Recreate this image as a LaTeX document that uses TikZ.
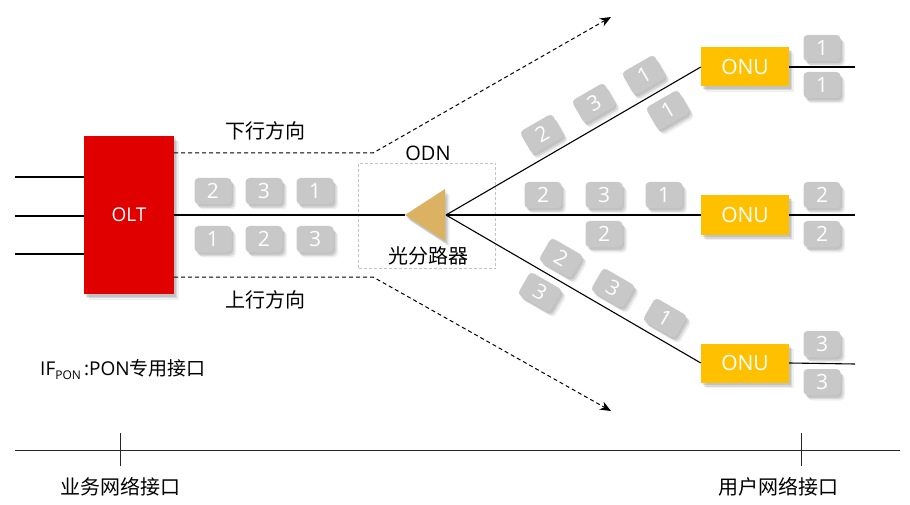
\documentclass[tikz,border=0pt]{standalone}
\usepackage{fontspec}
\setmainfont{Open Sans}
\newfontfamily\cjk{Noto Sans CJK SC}
\usetikzlibrary{arrows.meta,shadows}
\definecolor{oltred}{RGB}{224,0,0}
\definecolor{onuyel}{RGB}{255,192,0}
\definecolor{pktgray}{RGB}{200,200,200}
\definecolor{splitter}{RGB}{218,178,98}
\definecolor{odngray}{RGB}{195,195,195}
\begin{document}
\begin{tikzpicture}[x=1pt,y=-1pt,
  boxshadow/.style={
    drop shadow={shadow xshift=1.5pt,shadow yshift=-2.5pt,opacity=0.10,fill=black},
    drop shadow={shadow xshift=3pt,shadow yshift=-4pt,opacity=0.10,fill=black},
    drop shadow={shadow xshift=4.5pt,shadow yshift=-5.5pt,opacity=0.06,fill=black}},
  pkt/.style={rounded corners=4pt,fill=pktgray,minimum width=37pt,minimum height=26pt,
    inner sep=0pt,text=white,font=\fontsize{21}{21}\selectfont,boxshadow},
  dev/.style={text=white,inner sep=0pt,boxshadow},
  fiber/.style={line width=1.1pt},
  flow/.style={line width=1pt,dash pattern=on 4pt off 3pt,-{Stealth[length=11pt,width=9pt]}},
  cn/.style={font=\cjk\fontsize{20}{24}\selectfont,inner sep=0pt},
  axis/.style={line width=1pt,black!85}]
\useasboundingbox (0,0) rectangle (910,505);

% ODN frame
\node[draw=odngray,line width=0.8pt,dash pattern=on 3pt off 2pt,
      minimum width=137pt,minimum height=105pt,inner sep=0pt] (odn) at (427,216) {};

% devices
\node[dev,fill=oltred,minimum width=90pt,minimum height=158pt,
      font=\fontsize{19}{19}\selectfont] (olt) at (129,215) {OLT};
\node[dev,fill=onuyel,minimum width=88pt,minimum height=39pt,
      font=\fontsize{21}{21}\selectfont] (onu1) at (745,67) {ONU};
\node[dev,fill=onuyel,minimum width=88pt,minimum height=39pt,
      font=\fontsize{21}{21}\selectfont] (onu2) at (745,215) {ONU};
\node[dev,fill=onuyel,minimum width=88pt,minimum height=39pt,
      font=\fontsize{21}{21}\selectfont] (onu3) at (745,363) {ONU};

% service-side inputs of the OLT
\coordinate (in1) at (15,177);
\coordinate (in2) at (15,216);
\coordinate (in3) at (15,254);
\draw[fiber] (in1) -- (in1 -| olt.west);
\draw[fiber] (in2) -- (in2 -| olt.west);
\draw[fiber] (in3) -- (in3 -| olt.west);

% splitter
\coordinate (tip) at (405,215);
\coordinate (sp) at (446,215);
\draw[fiber] (olt.east) -- (tip);
\draw[fiber] (sp) -- (onu1.west);
\draw[fiber] (sp) -- (onu2.west);
\draw[fiber] (sp) -- (onu3.west);
\fill[splitter,boxshadow] (tip) -- (445,189) -- (445,241) -- cycle;

% user-side outputs of the ONUs
\coordinate (out1) at (855,67);
\coordinate (out2) at (855,215);
\coordinate (out3) at (855,364);
\draw[fiber] (onu1.east) -- (out1);
\draw[fiber] (onu2.east) -- (out2);
\draw[fiber] (onu3.east) -- (out3);

% traffic direction arrows
\coordinate (dk) at (373,153);
\coordinate (dtip) at (611,17);
\coordinate (uk) at (373,277);
\coordinate (utip) at (611,411);
\draw[flow] (olt.east |- dk) -- (dk) -- (dtip);
\draw[flow] (olt.east |- uk) -- (uk) -- (utip);

% frames between OLT and splitter
\node[pkt] (p1) at (213,191) {2};
\node[pkt] (p2) at (264,191) {3};
\node[pkt] (p3) at (315,191) {1};
\node[pkt] (p4) at (213,239) {1};
\node[pkt] (p5) at (264,239) {2};
\node[pkt] (p6) at (315,239) {3};

% frames on the upper branch
\node[pkt,rotate=30] (a1) at (542,134) {2};
\node[pkt,rotate=30] (a2) at (594,103) {3};
\node[pkt,rotate=30] (a3) at (644,75) {1};
\node[pkt,rotate=30] (a4) at (668,110) {1};

% frames on the middle branch
\node[pkt] (b1) at (543,195) {2};
\node[pkt] (b2) at (604,195) {3};
\node[pkt] (b3) at (664,195) {1};
\node[pkt] (b4) at (604,234) {2};

% frames on the lower branch
\node[pkt,rotate=-30] (c1) at (561,258) {2};
\node[pkt,rotate=-30] (c2) at (613,288) {3};
\node[pkt,rotate=-30] (c3) at (665,318) {1};
\node[pkt,rotate=-30] (c4) at (540,292) {3};

% frames at the user ports
\node[pkt] (e1) at (822,48) {1};
\node[pkt] (e2) at (822,85) {1};
\node[pkt] (e3) at (822,195) {2};
\node[pkt] (e4) at (822,234) {2};
\node[pkt] (e5) at (822,344) {3};
\node[pkt] (e6) at (822,382) {3};

% labels
\node[cn] (down) at (265,131) {下行方向};
\node[cn] (up) at (265,300) {上行方向};
\node[font=\fontsize{20}{20}\selectfont,inner sep=0pt] (odnl) at (428,153) {ODN};
\node[cn] (spl) at (428,256) {光分路器};
\node[anchor=west,inner sep=0pt,font=\fontsize{19}{22}\selectfont] (ifpon) at (40,370)
  {IF\raisebox{-4pt}{\fontsize{12}{12}\selectfont PON}\,:PON{\cjk 专用接口}};

% reference axis
\coordinate (ax0) at (15,450);
\coordinate (ax1) at (900,450);
\coordinate (t1) at (120,433);
\coordinate (t2) at (801,433);
\draw[axis] (ax0) -- (ax1);
\draw[axis] (t1) -- ++(0,33);
\draw[axis] (t2) -- ++(0,33);
\node[cn] (sni) at (120,487) {业务网络接口};
\node[cn] (uni) at (778,487) {用户网络接口};
\end{tikzpicture}
\end{document}
